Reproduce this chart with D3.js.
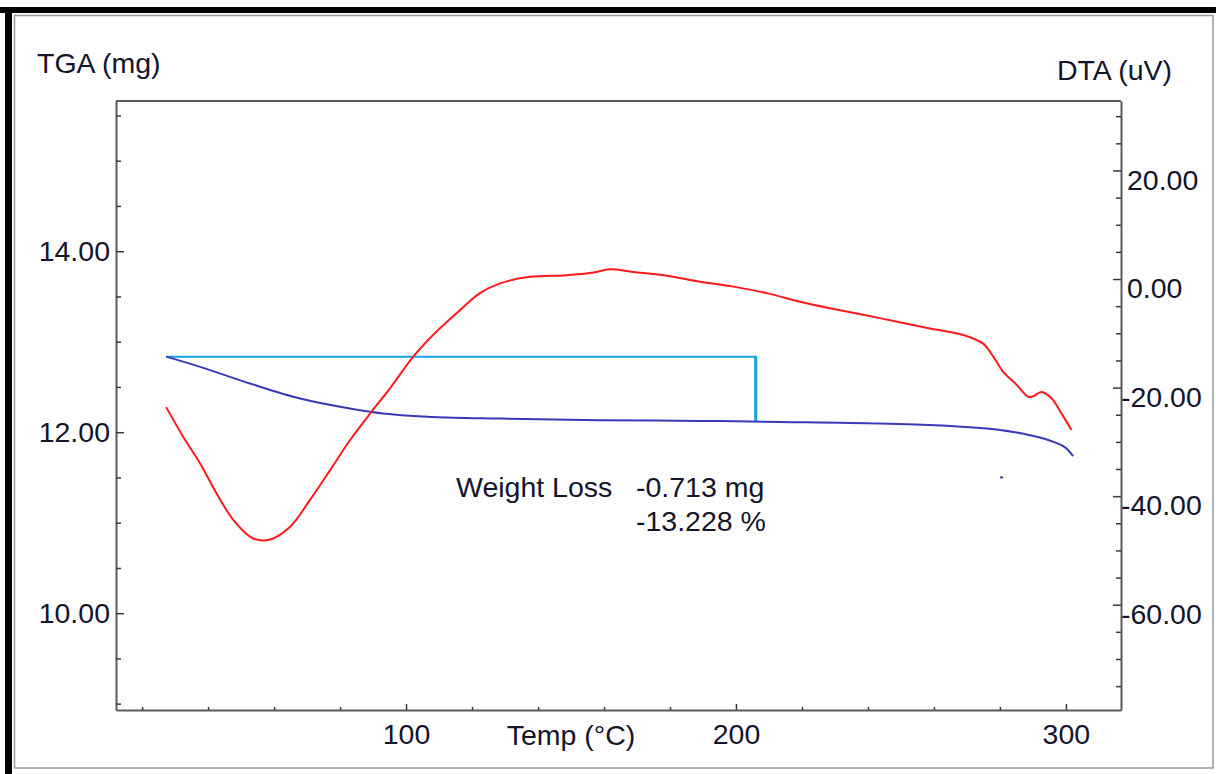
<!DOCTYPE html>
<html>
<head>
<meta charset="utf-8">
<script src="https://cdn.jsdelivr.net/npm/d3@7"></script>
<style>
    body { margin: 0; background: #fff; }
    svg text { font-family: Arial, "Liberation Sans", sans-serif; fill: #14142a; }
</style>
</head>
<body>
<div id="chart"></div>
<script>
// TGA trace (mg) against temperature (°C)
const tgaTemp = [27.3, 37.6, 52.7, 67.9, 83.0, 93.0, 108.2, 128.5, 158.8, 189.1, 213.3, 243.6, 263.8, 279.0, 289.1, 296.2, 300.2, 302.2];
const tgaMass = [12.835, 12.722, 12.538, 12.372, 12.262, 12.207, 12.169, 12.151, 12.133, 12.125, 12.114, 12.096, 12.070, 12.030, 11.967, 11.893, 11.820, 11.735];

// DTA trace (uV) against temperature (°C)
const dtaTemp = [27.3, 32.5, 37.6, 42.6, 47.7, 53.7, 58.8, 64.8, 70.9, 77.0, 83.0, 89.1, 95.2, 102.2, 108.2, 116.4, 122.4, 128.5,
    137.6, 148.7, 156.8, 161.8, 168.9, 179.0, 189.1, 199.2, 209.3, 219.4, 228.5, 243.6, 258.8, 268.9, 274.9, 278.0, 281.0,
    285.1, 288.6, 290.1, 292.6, 295.7, 298.7, 301.7];
const dtaSignal = [-23.6, -29.1, -34.0, -39.5, -44.4, -47.8, -48.0, -45.7, -40.7, -35.2, -29.7, -24.8, -20.1, -14.3, -10.3, -5.7, -2.6, -0.8,
    0.4, 0.7, 1.2, 1.8, 1.3, 0.6, -0.5, -1.4, -2.6, -4.2, -5.4, -7.2, -9.1, -10.3, -11.9, -14.3, -17.1,
    -19.5, -21.7, -21.6, -20.8, -22.0, -24.8, -27.8];

// weight loss step: start/end temperature and mass
const lossTemp = [27.3, 206.0];
const lossMass = [12.835, 12.122];
const lossLabel = ['Weight Loss', '-0.713 mg', '-13.228 %'];

// stray marker near the end of the TGA trace
const strayPoint = [280.5, 11.50];

const tempTicks = [100, 200, 300];
const tempMinor = [20, 40, 60, 80, 120, 140, 160, 180, 220, 240, 260, 280];
const tgaTicks = [10, 12, 14];
const tgaMinor = [9, 9.5, 10.5, 11, 11.5, 12.5, 13, 13.5, 14.5, 15, 15.5];
const dtaTicks = [20, 0, -20, -40, -60];
const dtaMinor = [30, 25, 15, 10, 5, -5, -10, -15, -25, -30, -35, -45, -50, -55, -65, -70, -75];

const W = 1216, H = 774;
const box = {left: 116, right: 1121, top: 101, bottom: 710};
const FONT = '28.5px';

const svg = d3.select('#chart').append('svg')
    .attr('width', W)
    .attr('height', H);

// window frame
svg.append('rect').attr('x', 0).attr('y', 7).attr('width', W).attr('height', 6).attr('fill', '#000');
svg.append('rect').attr('x', 5).attr('y', 7).attr('width', 7).attr('height', H - 7).attr('fill', '#000');
svg.append('rect')
    .attr('x', 14.5).attr('y', 15.5)
    .attr('width', 1213 - 14.5).attr('height', 768 - 15.5)
    .attr('fill', 'none')
    .attr('stroke', '#9a9a9a')
    .attr('stroke-width', 1.5);

const x = d3.scaleLinear().domain([12.1, 316.7]).range([box.left, box.right]);
const yTga = d3.scaleLinear().domain([8.93, 15.66]).range([box.bottom, box.top]);
const yDta = d3.scaleLinear().domain([-79.4, 32.8]).range([box.bottom, box.top]);

const fmt2 = d => d.toFixed(2);

function styleAxis(g) {
    g.select('.domain').attr('stroke', '#5a5a5a').attr('stroke-width', 2);
    g.selectAll('.tick line').attr('stroke', '#3a3a3a').attr('stroke-width', 1.5);
    g.selectAll('.tick text')
        .style('font-size', FONT)
        .style('font-family', 'Arial, "Liberation Sans", sans-serif')
        .attr('fill', '#14142a');
}

// top border of plot box
svg.append('line')
    .attr('x1', box.left).attr('x2', box.right)
    .attr('y1', box.top).attr('y2', box.top)
    .attr('stroke', '#5a5a5a').attr('stroke-width', 2);

// bottom axis (ticks point inward)
svg.append('g')
    .attr('transform', `translate(0,${box.bottom})`)
    .call(d3.axisBottom(x).tickValues(tempMinor).tickSize(-3).tickFormat('').tickSizeOuter(0))
    .call(styleAxis);
svg.append('g')
    .attr('transform', `translate(0,${box.bottom})`)
    .call(d3.axisBottom(x).tickValues(tempTicks).tickSize(-6).tickPadding(14).tickSizeOuter(0).tickFormat(d => String(d)))
    .call(styleAxis)
    .call(g => g.select('.domain').remove());

// left axis TGA
svg.append('g')
    .attr('transform', `translate(${box.left},0)`)
    .call(d3.axisLeft(yTga).tickValues(tgaMinor).tickSize(-5).tickFormat('').tickSizeOuter(0))
    .call(styleAxis);
svg.append('g')
    .attr('transform', `translate(${box.left},0)`)
    .call(d3.axisLeft(yTga).tickValues(tgaTicks).tickSize(-8).tickPadding(6).tickSizeOuter(0).tickFormat(fmt2))
    .call(styleAxis)
    .call(g => g.select('.domain').remove());

// right axis DTA
svg.append('g')
    .attr('transform', `translate(${box.right},0)`)
    .call(d3.axisRight(yDta).tickValues(dtaMinor).tickSize(-5).tickFormat('').tickSizeOuter(0))
    .call(styleAxis);
svg.append('g')
    .attr('transform', `translate(${box.right},0)`)
    .call(d3.axisRight(yDta).tickValues(dtaTicks).tickSize(-8).tickPadding(-2).tickSizeOuter(0).tickFormat(fmt2))
    .call(styleAxis)
    .call(g => g.select('.domain').remove())
    .call(g => g.selectAll('.tick text').attr('x', d => d < 0 ? 0 : 6).attr('dy', '0.65em'));

// axis titles
svg.append('text').attr('x', 37).attr('y', 73).style('font-size', FONT).text('TGA (mg)');
svg.append('text').attr('x', 1172).attr('y', 80).attr('text-anchor', 'end').style('font-size', FONT).text('DTA (uV)');
svg.append('text').attr('x', 571).attr('y', 745).attr('text-anchor', 'middle').style('font-size', FONT).text('Temp (°C)');

// weight loss step marker
const lossPath = d3.line()([
    [x(lossTemp[0]), yTga(lossMass[0])],
    [x(lossTemp[1]), yTga(lossMass[0])],
    [x(lossTemp[1]), yTga(lossMass[1])]
]);
svg.append('path')
    .attr('d', lossPath)
    .attr('fill', 'none')
    .attr('stroke', '#12a4e4')
    .attr('stroke-width', 2);
svg.append('line')
    .attr('x1', x(lossTemp[1])).attr('x2', x(lossTemp[1]))
    .attr('y1', yTga(lossMass[0])).attr('y2', yTga(lossMass[1]))
    .attr('stroke', '#12a4e4')
    .attr('stroke-width', 3);

// TGA curve
const tgaLine = d3.line()
    .x(d => x(d[0]))
    .y(d => yTga(d[1]))
    .curve(d3.curveMonotoneX);
svg.append('path')
    .datum(d3.zip(tgaTemp, tgaMass))
    .attr('d', tgaLine)
    .attr('fill', 'none')
    .attr('stroke', '#3a3ab8')
    .attr('stroke-width', 2);

// DTA curve
const dtaLine = d3.line()
    .x(d => x(d[0]))
    .y(d => yDta(d[1]))
    .curve(d3.curveCatmullRom.alpha(0.5));
svg.append('path')
    .datum(d3.zip(dtaTemp, dtaSignal))
    .attr('d', dtaLine)
    .attr('fill', 'none')
    .attr('stroke', '#ff1a1a')
    .attr('stroke-width', 2);

// stray dash
svg.append('line')
    .attr('x1', x(strayPoint[0]) - 1.5).attr('x2', x(strayPoint[0]) + 1.5)
    .attr('y1', yTga(strayPoint[1])).attr('y2', yTga(strayPoint[1]))
    .attr('stroke', '#3a3ab8')
    .attr('stroke-width', 2);

// weight loss annotation
svg.append('text').attr('x', 456).attr('y', 497).style('font-size', FONT).text(lossLabel[0]);
svg.append('text').attr('x', 636).attr('y', 497).style('font-size', FONT).text(lossLabel[1]);
svg.append('text').attr('x', 636).attr('y', 531).style('font-size', FONT).text(lossLabel[2]);
</script>
</body>
</html>
